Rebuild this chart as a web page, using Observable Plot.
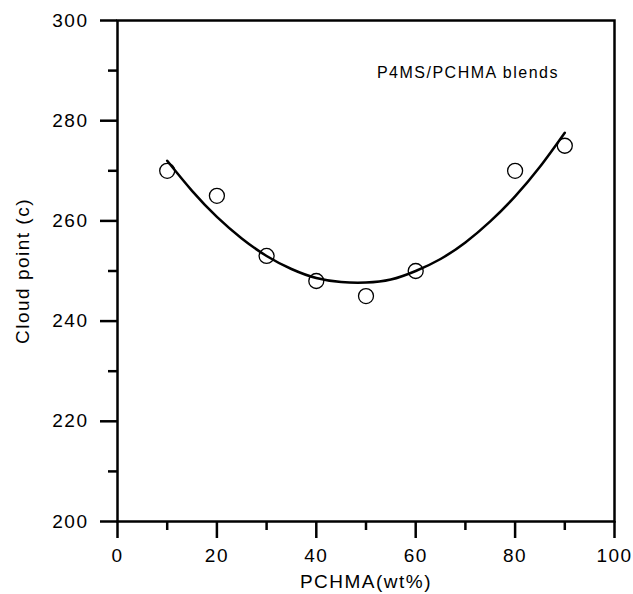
<!DOCTYPE html>
<html>
<head>
<meta charset="utf-8">
<script src="https://cdn.jsdelivr.net/npm/d3@7"></script>
<script src="https://cdn.jsdelivr.net/npm/@observablehq/plot@0.6"></script>
<style>
  html, body { margin: 0; padding: 0; background: #fff; }
</style>
</head>
<body>
<div id="chart"></div>
<script>
// Measured cloud points
const pchma = [10, 20, 30, 40, 50, 60, 80, 90];
const cloudPoint = [270, 265, 253, 248, 245, 250, 270, 275];

// Fitted curve
const curveX = [10, 15, 20, 25, 30, 35, 40, 45, 50, 55, 60, 65, 70, 75, 80, 85, 90];
const curveY = [272, 266, 260.8, 256.5, 253, 250.4, 248.6, 247.8, 247.7, 248.3, 250, 252.4, 255.7, 259.9, 264.9, 270.8, 277.6];

// Ticks
const xMajor = [0, 20, 40, 60, 80, 100];
const xMinor = [10, 30, 50, 70, 90];
const yMajor = [200, 220, 240, 260, 280, 300];
const yMinor = [210, 230, 250, 270, 290];

const xTitle = "PCHMA(wt%)";
const yTitle = "Cloud point (c)";
const note = "P4MS/PCHMA blends";

const points = pchma.map((x, i) => ({x, y: cloudPoint[i]}));
const curve = curveX.map((x, i) => ({x, y: curveY[i]}));

const W = 633, H = 594, mL = 117, mR = 19, mT = 20, mB = 73;
const plotW = W - mL - mR, plotH = H - mT - mB;

const chart = Plot.plot({
  width: W,
  height: H,
  marginLeft: mL,
  marginRight: mR,
  marginTop: mT,
  marginBottom: mB,
  x: {domain: [0, 100]},
  y: {domain: [200, 300]},
  style: {fontFamily: "'Liberation Sans', Arial, sans-serif", fontSize: "19px", letterSpacing: "1.5px", color: "#000", background: "#fff"},
  marks: [
    Plot.axisX(xMajor, {tickSize: 0, tickPadding: 27, label: null, fontSize: 19}),
    Plot.axisY(yMajor, {tickSize: 0, tickPadding: 29, label: null, fontSize: 19}),
    // outward tick marks
    Plot.ruleX(xMajor, {x: d => d, insetTop: plotH, insetBottom: -17, stroke: "#000", strokeWidth: 2.5}),
    Plot.ruleX(xMinor, {x: d => d, insetTop: plotH, insetBottom: -9, stroke: "#000", strokeWidth: 2.5}),
    Plot.ruleY(yMajor, {y: d => d, insetLeft: -17, insetRight: plotW, stroke: "#000", strokeWidth: 2.5}),
    Plot.ruleY(yMinor, {y: d => d, insetLeft: -9, insetRight: plotW, stroke: "#000", strokeWidth: 2.5}),
    Plot.frame({stroke: "#000", strokeWidth: 2.5}),
    Plot.line(curve, {x: "x", y: "y", curve: "natural", stroke: "#000", strokeWidth: 2.5}),
    Plot.dot(points, {x: "x", y: "y", r: 7.5, stroke: "#000", strokeWidth: 1.3, fill: "none"}),
    Plot.text([xTitle], {text: d => d, frameAnchor: "bottom", dy: 60, textAnchor: "middle", lineAnchor: "middle", fontSize: 19, fill: "#000"}),
    Plot.text([yTitle], {text: d => d, frameAnchor: "left", dx: -95, rotate: -90, textAnchor: "middle", lineAnchor: "middle", fontSize: 19, fill: "#000"}),
    Plot.text([note], {text: d => d, x: 52.2, y: 289.6, textAnchor: "start", lineAnchor: "middle", fontSize: 16, fill: "#000", style: "letter-spacing:1.1px"})
  ]
});
document.getElementById("chart").appendChild(chart);
</script>
</body>
</html>
